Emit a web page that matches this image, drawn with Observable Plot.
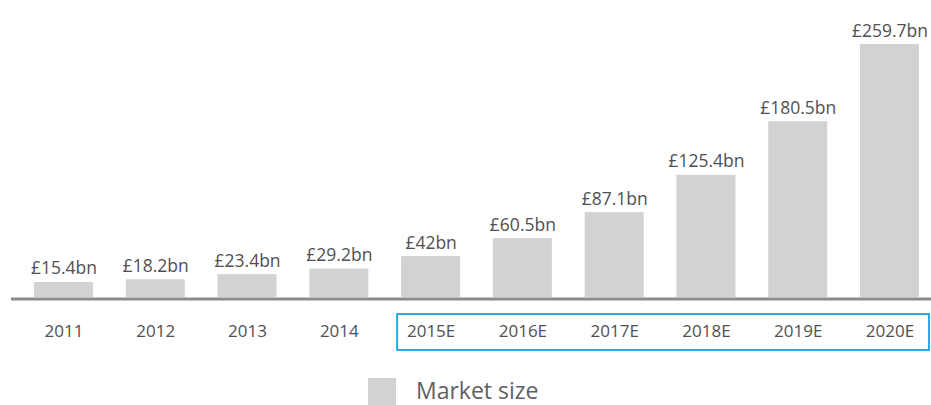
<!DOCTYPE html>
<html><head><meta charset="utf-8">
<script src="https://cdn.jsdelivr.net/npm/d3@7"></script>
<script src="https://cdn.jsdelivr.net/npm/@observablehq/plot@0.6"></script>
<style>
body{margin:0;background:#fff;font-family:"Open Sans",sans-serif;overflow:hidden;}
#legend{position:relative;height:45px;}
#legend .sw{position:absolute;left:368px;top:18px;width:28px;height:28px;background:#d1d2d4;}
#legend .lb{position:absolute;left:416px;top:18px;font-size:23px;color:#5f6062;line-height:25px;}
</style></head>
<body><div id="chart"></div>
<div id="legend"><div class="sw"></div><div class="lb">Market size</div></div>
<script>
const years = ["2011","2012","2013","2014","2015E","2016E","2017E","2018E","2019E","2020E"];
const values = [15.4,18.2,23.4,29.2,42,60.5,87.1,125.4,180.5,259.7];
const labels = ["£15.4bn","£18.2bn","£23.4bn","£29.2bn","£42bn","£60.5bn","£87.1bn","£125.4bn","£180.5bn","£259.7bn"];
const forecastFrom = "2015E", forecastTo = "2020E";
const data = years.map((y,i)=>({year:y,value:values[i],label:labels[i]}));

const chart = Plot.plot({
  width: 931, height: 360,
  marginLeft: 11, marginRight: 0, marginTop: 0, marginBottom: 0,
  style: {fontFamily: "'Open Sans', sans-serif", background: "#fff"},
  x: {type: "band", domain: years, range: [34, 919], paddingInner: 0.357, paddingOuter: 0, round: false, axis: null},
  y: {domain: [0, 259.7], range: [297, 44], axis: null},
  marks: [
    Plot.barY(data, {x: "year", y: "value", fill: "#d1d2d4"}),
    Plot.ruleY([0], {stroke: "#8c8c8e", strokeWidth: 3, dy: 1.5}),
    Plot.text(data, {x: "year", y: "value", text: "label", lineAnchor: "bottom", dy: -8, fontSize: 17.5, fill: "#505052"}),
    Plot.text(data, {x: "year", y: 0, text: "year", lineAnchor: "middle", dy: 34, fontSize: 17, fill: "#505052"})
  ]
});
document.getElementById("chart").appendChild(chart);

// forecast box drawn from the plot's own scales
const sx = chart.scale("x"), sy = chart.scale("y");
const bw = sx.bandwidth;
const x1 = sx.apply(forecastFrom) - 4, x2 = sx.apply(forecastTo) + bw + 10;
const y0 = sy.apply(0);
d3.select(chart).append("rect")
  .attr("x", x1).attr("y", y0 + 17).attr("width", x2 - x1).attr("height", 36)
  .attr("fill", "none").attr("stroke", "#29abe2").attr("stroke-width", 2);
</script></body></html>
